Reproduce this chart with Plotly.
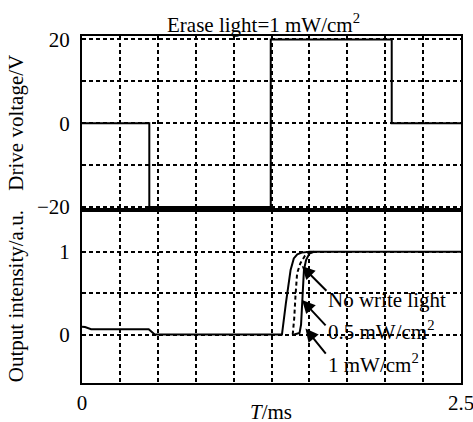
import plotly.graph_objects as go

# ---- data ----
drive_t = [0, 0.444, 0.444, 1.245, 1.245, 2.043, 2.043, 2.5]
drive_v = [0, 0, -20, -20, 20, 20, 0, 0]

# output intensity curves
curve_a_t = [0, 0.02, 0.06, 0.44, 0.48, 1.319, 1.345, 1.376, 1.397, 1.42, 1.45, 1.5, 2.5]
curve_a_y = [0.095, 0.09, 0.065, 0.065, 0.0, 0.0, 0.38, 0.78, 0.92, 0.97, 0.99, 1.0, 1.0]

curve_b_t = [1.39, 1.40, 1.408, 1.419, 1.44, 1.47, 1.50]
curve_b_y = [0.0, 0.2, 0.46, 0.74, 0.86, 0.95, 1.0]

curve_c_t = [1.40, 1.435, 1.445, 1.455, 1.464, 1.478, 1.50, 1.53]
curve_c_y = [0.0, 0.02, 0.12, 0.45, 0.78, 0.90, 0.98, 1.0]

x_ticks = [0, 0.25, 0.5, 0.75, 1.0, 1.25, 1.5, 1.75, 2.0, 2.25, 2.5]
x_ticktext = ["0", "", "", "", "", "", "", "", "", "", "2.5"]
top_y_ticks = [-20, -10, 0, 10, 20]
top_y_ticktext = ["\u221220", "", "0", "", "20"]
bot_y_ticks = [0, 0.5, 1]
bot_y_ticktext = ["0", "", "1"]

labels = ["No write light", "0.5 mW/cm<sup>2</sup>", "1 mW/cm<sup>2</sup>"]
label_x = [1.612, 1.612, 1.612]
label_y = [0.416, 0.053, -0.35]
arrow_tip_x = [1.450, 1.452, 1.474]
arrow_tip_y = [0.827, 0.416, 0.073]
arrow_tail_x = [1.622, 1.616, 1.616]
arrow_tail_y = [0.51, 0.092, -0.25]

FONT = "Liberation Serif"
FS = 21

fig = go.Figure()
fig.add_trace(go.Scatter(x=drive_t, y=drive_v, mode="lines", xaxis="x2", yaxis="y2",
                         line=dict(color="black", width=2), showlegend=False))
fig.add_trace(go.Scatter(x=curve_a_t, y=curve_a_y, mode="lines", xaxis="x", yaxis="y",
                         line=dict(color="black", width=2), showlegend=False))
fig.add_trace(go.Scatter(x=curve_b_t, y=curve_b_y, mode="lines", xaxis="x", yaxis="y",
                         line=dict(color="black", width=2, dash="4px,3px"), showlegend=False))
fig.add_trace(go.Scatter(x=curve_c_t, y=curve_c_y, mode="lines", xaxis="x", yaxis="y",
                         line=dict(color="black", width=2), showlegend=False))

grid = dict(showgrid=True, gridcolor="black", gridwidth=1.5, griddash="4px,3px",
            showline=True, linecolor="black", linewidth=2, mirror=True,
            zeroline=False, ticks="", tickfont=dict(family=FONT, size=FS, color="black"))

split = 1 - 174 / 347

fig.update_layout(
    width=473, height=422,
    margin=dict(l=82, r=10, t=36, b=39),
    paper_bgcolor="white", plot_bgcolor="white",
    font=dict(family=FONT, size=FS, color="black"),
    xaxis=dict(domain=[0, 1], anchor="y", range=[0, 2.5], tickmode="array",
               tickvals=x_ticks, ticktext=x_ticktext, ticklabeloverflow="allow",
               automargin=False, **grid),
    xaxis2=dict(domain=[0, 1], anchor="y2", range=[0, 2.5], matches="x", tickmode="array",
                tickvals=x_ticks, ticktext=x_ticktext, showticklabels=False, **grid),
    yaxis=dict(domain=[0, split], anchor="x", range=[-0.586, 1.505], tickmode="array",
               tickvals=bot_y_ticks, ticktext=bot_y_ticktext, ticklabelstandoff=6, **grid),
    yaxis2=dict(domain=[split, 1], anchor="x2", range=[-20.72, 20.81], tickmode="array",
                tickvals=top_y_ticks, ticktext=top_y_ticktext, ticklabelstandoff=6, **grid),
)

ann = []
ann.append(dict(text="Erase light=1 mW/cm<sup>2</sup>", xref="paper", yref="paper",
                x=0.478, y=1.035, xanchor="center", yanchor="middle", showarrow=False,
                font=dict(family=FONT, size=FS)))
ann.append(dict(text="<i>T</i>/ms", xref="paper", yref="paper", x=0.499, y=-0.085,
                xanchor="center", yanchor="middle", showarrow=False, font=dict(family=FONT, size=FS)))
ann.append(dict(text="Drive voltage/V", xref="paper", yref="paper", x=-0.175,
                y=(split + 1) / 2, textangle=-90, xanchor="center", yanchor="middle",
                showarrow=False, font=dict(family=FONT, size=FS)))
ann.append(dict(text="Output intensity/a.u.", xref="paper", yref="paper", x=-0.175,
                y=split / 2, textangle=-90, xanchor="center", yanchor="middle",
                showarrow=False, font=dict(family=FONT, size=FS)))
for i in range(3):
    ann.append(dict(text=labels[i], xref="x", yref="y", x=label_x[i], y=label_y[i],
                    xanchor="left", yanchor="middle", showarrow=False,
                    font=dict(family=FONT, size=FS)))
    ann.append(dict(text="", xref="x", yref="y", x=arrow_tip_x[i], y=arrow_tip_y[i],
                    axref="x", ayref="y", ax=arrow_tail_x[i], ay=arrow_tail_y[i],
                    showarrow=True, arrowhead=2, arrowsize=1.3, arrowwidth=2,
                    arrowcolor="black", standoff=0))
fig.update_layout(annotations=ann)

fig.write_html("out.html", config={"displayModeBar": False},
               post_script="document.body.style.margin='0';document.body.style.overflow='hidden';")
